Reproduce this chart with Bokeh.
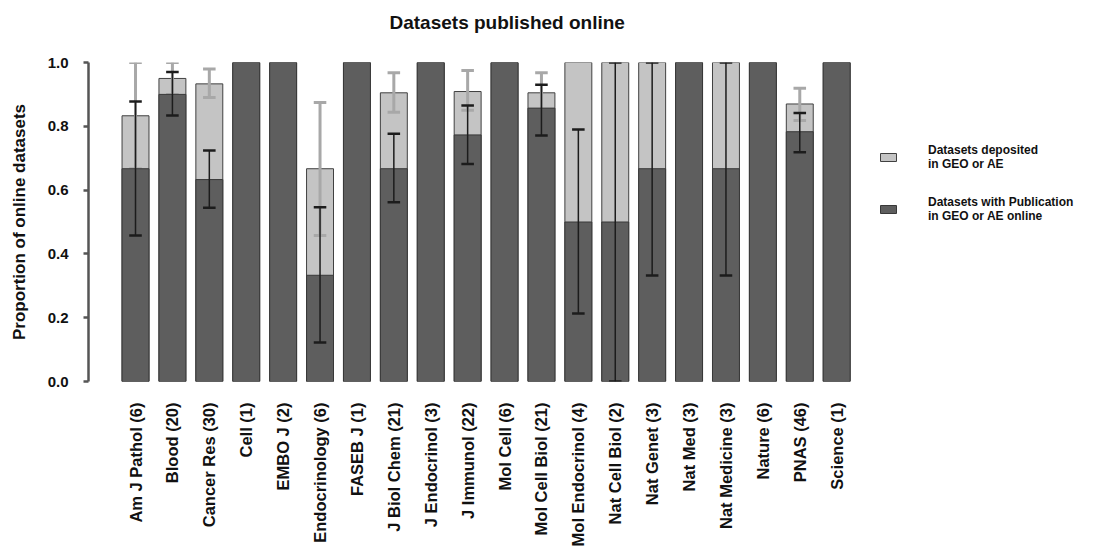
import math
import numpy as np
from bokeh.plotting import figure
from bokeh.models import (Range1d, Legend, LegendItem, ColumnDataSource,
                          Title, FixedTicker)
from bokeh.transform import dodge
from bokeh.embed import file_html
from bokeh.resources import INLINE

nan = float("nan")

journals = ["Am J Pathol (6)", "Blood (20)", "Cancer Res (30)", "Cell (1)",
            "EMBO J (2)", "Endocrinology (6)", "FASEB J (1)", "J Biol Chem (21)",
            "J Endocrinol (3)", "J Immunol (22)", "Mol Cell (6)", "Mol Cell Biol (21)",
            "Mol Endocrinol (4)", "Nat Cell Biol (2)", "Nat Genet (3)", "Nat Med (3)",
            "Nat Medicine (3)", "Nature (6)", "PNAS (46)", "Science (1)"]

# proportion of datasets deposited in GEO or AE (light grey)
deposited = [0.833, 0.95, 0.933, 1.0, 1.0, 0.667, 1.0, 0.905, 1.0, 0.909,
             1.0, 0.905, 1.0, 1.0, 1.0, 1.0, 1.0, 1.0, 0.87, 1.0]
deposited_lo = [0.667, 0.90, 0.89, nan, nan, 0.458, nan, 0.844, nan, 0.85,
                nan, 0.844, nan, nan, nan, nan, nan, nan, 0.818, nan]
deposited_hi = [1.0, 1.0, 0.98, nan, nan, 0.875, nan, 0.968, nan, 0.975,
                nan, 0.968, nan, nan, nan, nan, nan, nan, 0.919, nan]

# proportion of datasets with publication in GEO or AE online (dark grey)
published = [0.667, 0.90, 0.633, 1.0, 1.0, 0.333, 1.0, 0.667, 1.0, 0.773,
             1.0, 0.857, 0.5, 0.5, 0.667, 1.0, 0.667, 1.0, 0.783, 1.0]
published_lo = [0.458, 0.834, 0.545, nan, nan, 0.122, nan, 0.562, nan, 0.682,
                nan, 0.771, 0.213, 0.0, 0.332, nan, 0.332, nan, 0.719, nan]
published_hi = [0.878, 0.97, 0.724, nan, nan, 0.546, nan, 0.777, nan, 0.865,
                nan, 0.93, 0.79, 1.0, 1.0, nan, 1.0, nan, 0.842, nan]

y_ticks = [0.0, 0.2, 0.4, 0.6, 0.8, 1.0]

pos = list(range(len(journals)))
src = ColumnDataSource(dict(
    x=pos,
    j=journals,
    dep=np.array(deposited, dtype=float),
    dep_lo=np.array(deposited_lo, dtype=float),
    dep_hi=np.array(deposited_hi, dtype=float),
    pub=np.array(published, dtype=float),
    pub_lo=np.array(published_lo, dtype=float),
    pub_hi=np.array(published_hi, dtype=float),
))

FONT = "Liberation Sans"

p = figure(
    x_range=Range1d(-1.274, 26.42),
    y_range=Range1d(0, 1),
    width=1115, height=550,
    min_border_left=88, min_border_right=5,
    min_border_top=62, min_border_bottom=169,
    output_backend="svg", toolbar_location=None,
)
p.outline_line_color = None
p.xgrid.visible = False
p.ygrid.visible = False

# spacer between the frame and the title (nearest the frame)
spacer = Title(text=" ", text_font=FONT, text_font_size="15px", standoff=0)
p.add_layout(spacer, "above")
title = Title(text="Datasets published online", align="left",
              vertical_align="top",
              text_font=FONT, text_font_size="19px", text_font_style="bold",
              text_color="#111111", offset=301, standoff=18)
p.add_layout(title, "above")

W = 0.73
# light bar (deposited) drawn first, full height, then its errors
light = p.vbar(x="x", top="dep", bottom=0, width=W, source=src,
               fill_color="#c4c4c4", line_color="#404040", line_width=1)
p.segment(x0="x", x1="x", y0="dep_lo", y1="dep_hi", source=src,
          line_color="#a8a8a8", line_width=3)
for col in ("dep_lo", "dep_hi"):
    p.segment(x0=dodge("x", -0.17), x1=dodge("x", 0.17),
              y0=col, y1=col, source=src, line_color="#a8a8a8", line_width=3)

# dark bar (with publication) on top, then its errors
dark = p.vbar(x="x", top="pub", bottom=0, width=W, source=src,
              fill_color="#5e5e5e", line_color="#383838", line_width=1)
p.segment(x0="x", x1="x", y0="pub_lo", y1="pub_hi", source=src,
          line_color="#1c1c1c", line_width=1.5)
for col in ("pub_lo", "pub_hi"):
    p.segment(x0=dodge("x", -0.17), x1=dodge("x", 0.17),
              y0=col, y1=col, source=src, line_color="#1c1c1c", line_width=2.5)

# axes
yax = p.yaxis[0]
yax.ticker = FixedTicker(ticks=y_ticks)
yax.major_label_overrides = {t: f"{t:.1f}" for t in y_ticks}
yax.axis_label = "Proportion of online datasets"
yax.axis_label_text_font = FONT
yax.axis_label_text_font_size = "17px"
yax.axis_label_text_font_style = "bold"
yax.axis_label_text_color = "#111111"
yax.axis_label_standoff = 16
yax.major_label_text_font = FONT
yax.major_label_text_font_size = "15px"
yax.major_label_text_font_style = "bold"
yax.major_label_text_color = "#111111"
yax.major_label_standoff = 15
yax.axis_line_color = "#555555"
yax.axis_line_width = 2.5
yax.major_tick_line_color = "#555555"
yax.major_tick_line_width = 2.5
yax.major_tick_out = 5
yax.major_tick_in = 0
yax.minor_tick_line_color = None

xax = p.xaxis[0]
xax.ticker = FixedTicker(ticks=pos)
xax.major_label_overrides = {i: name for i, name in zip(pos, journals)}
xax.axis_line_color = None
xax.major_tick_line_color = None
xax.minor_tick_line_color = None
xax.major_label_orientation = math.pi / 2
xax.major_label_text_font = FONT
xax.major_label_text_font_size = "16.5px"
xax.major_label_text_font_style = "bold"
xax.major_label_text_color = "#111111"
xax.major_label_standoff = 21
xax.major_tick_out = 0
xax.major_tick_in = 0

legend = Legend(
    items=[LegendItem(label="Datasets deposited\nin GEO or AE", renderers=[light]),
           LegendItem(label="Datasets with Publication\nin GEO or AE online", renderers=[dark])],
    location=(790, 158),
    glyph_width=20, glyph_height=10,
    label_standoff=30, spacing=24, padding=0, margin=0,
    border_line_color=None, background_fill_alpha=0,
    label_text_font=FONT, label_text_font_size="12px",
    label_text_font_style="bold", label_text_color="#111111",
    label_text_line_height=1.1,
)
p.add_layout(legend, "center")

open("out.html", "w").write(file_html(p, INLINE))
